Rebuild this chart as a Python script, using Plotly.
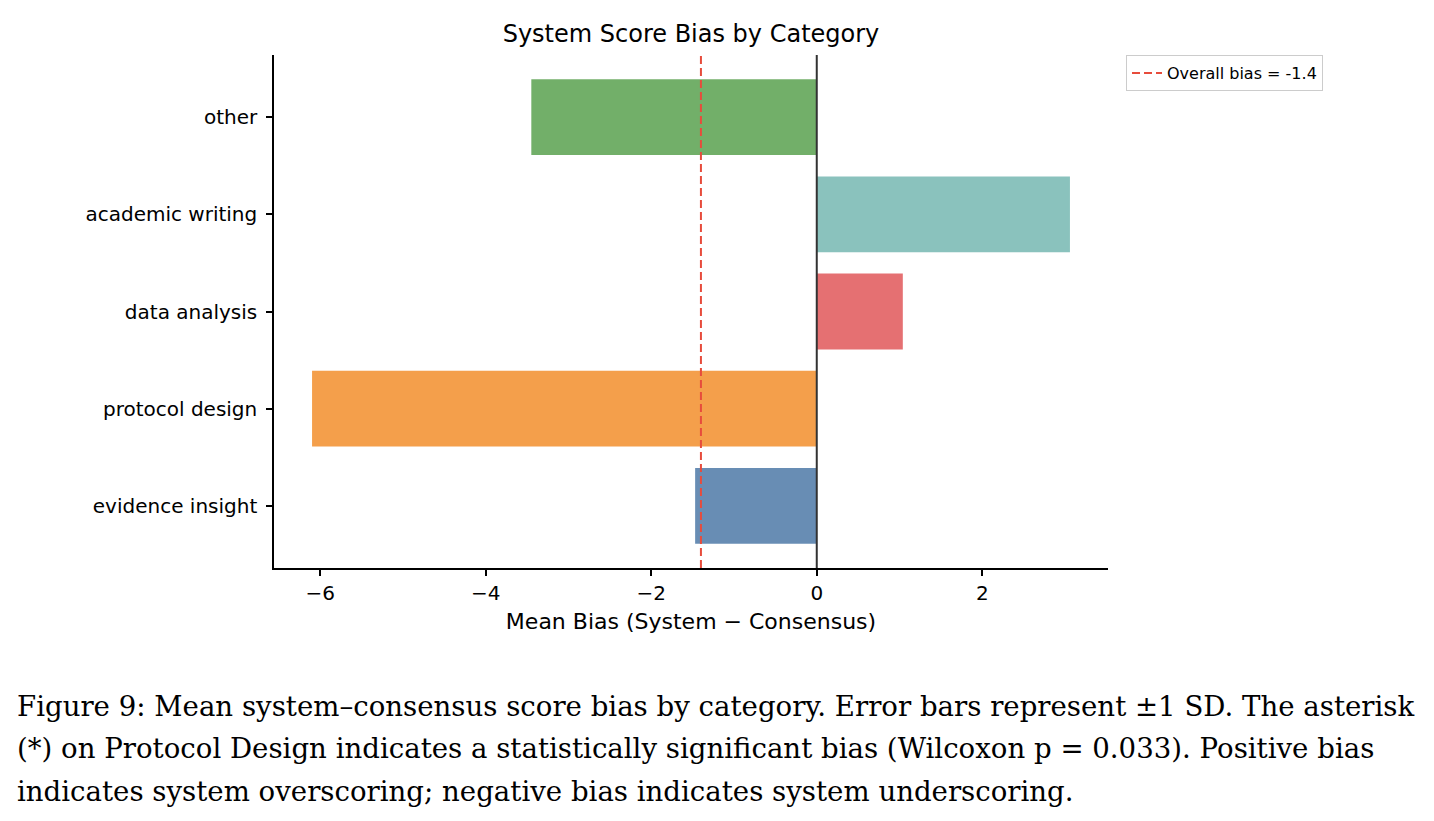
import plotly.graph_objects as go

categories = ["evidence insight", "protocol design", "data analysis", "academic writing", "other"]
mean_bias = [-1.47, -6.10, 1.04, 3.06, -3.45]
bar_colors = ["#4E79A7", "#F28E2B", "#E15759", "#76B7B2", "#59A14F"]
overall_bias = -1.4
x_ticks = [-6, -4, -2, 0, 2]
x_tick_labels = ["\u22126", "\u22124", "\u22122", "0", "2"]

caption_lines = [
    "Figure 9: Mean system\u2013consensus score bias by category. Error bars represent \u00b11 SD. The asterisk",
    "(*) on Protocol Design indicates a statistically significant bias (Wilcoxon p = 0.033). Positive bias",
    "indicates system overscoring; negative bias indicates system underscoring.",
]

L, R, T, B = 274, 1108, 55, 568
W, H = 1434, 821

fig = go.Figure()
fig.add_trace(go.Bar(
    y=list(range(len(categories))), x=mean_bias, orientation="h",
    marker=dict(color=bar_colors, opacity=0.85, line=dict(width=0)),
    width=0.78, showlegend=False, hoverinfo="x+y",
))
ylo, yhi = -0.64, len(categories) - 1 + 0.64
fig.add_trace(go.Scatter(
    x=[overall_bias, overall_bias], y=[ylo, yhi], mode="lines",
    line=dict(color="#E74C3C", width=2, dash="8px,4px"),
    name=f"Overall bias = {overall_bias}", showlegend=True,
))
fig.add_shape(type="line", x0=0, x1=0, y0=ylo, y1=yhi, xref="x", yref="y",
              line=dict(color="#333333", width=2))

for i, line in enumerate(caption_lines):
    fig.add_annotation(
        text=line, xref="paper", yref="paper",
        x=(15 - L) / (R - L), y=(B - (706 + i * 42.5)) / (B - T),
        xanchor="left", yanchor="middle", showarrow=False,
        font=dict(family="DejaVu Serif, serif", size=27.6, color="black"),
    )

fig.update_layout(
    width=W, height=H,
    margin=dict(l=L, r=W - R, t=T, b=H - B),
    paper_bgcolor="white", plot_bgcolor="white",
    font=dict(family="DejaVu Sans, sans-serif", size=20, color="black"),
    title=dict(text="System Score Bias by Category", x=(L + R) / 2 / W, xanchor="center",
               y=1 - 34 / H, yanchor="middle", font=dict(size=24)),
    xaxis=dict(range=[-6.56, 3.52], tickvals=x_ticks, ticktext=x_tick_labels,
               showgrid=False, zeroline=False, showline=True, linecolor="black", linewidth=1.5,
               ticks="outside", ticklen=6, tickwidth=1.5, tickcolor="black", ticklabelstandoff=0,
               title=dict(text="Mean Bias (System \u2212 Consensus)", standoff=10, font=dict(size=22))),
    yaxis=dict(range=[ylo, yhi], tickvals=list(range(len(categories))), ticktext=categories,
               showgrid=False, zeroline=False, showline=True, linecolor="black", linewidth=1.5,
               ticks="outside", ticklen=6, tickwidth=1.5, tickcolor="black", ticklabelstandoff=5),
    legend=dict(x=(1126 - L) / (R - L), y=1, xanchor="left", yanchor="top",
                bordercolor="#CCCCCC", borderwidth=1, font=dict(size=16),
                bgcolor="white"),
)

fig.write_html("out.html")
